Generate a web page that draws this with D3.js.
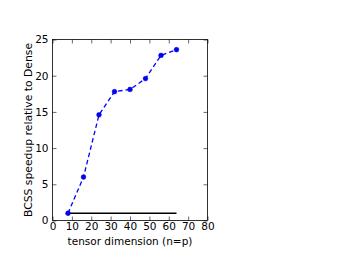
<!DOCTYPE html>
<html><head><meta charset="utf-8">
<script src="https://cdn.jsdelivr.net/npm/d3@7"></script>
<style>body{margin:0;background:#fff}svg{display:block}text{font-family:"DejaVu Sans",sans-serif}</style>
</head><body>
<script>
const dims = [8, 16, 24, 32, 40, 48, 56, 64];
const speedup = [1.0, 6.0, 14.6, 17.8, 18.1, 19.6, 22.8, 23.6];
const baseline = [1, 1, 1, 1, 1, 1, 1, 1];
const xTicks = [0, 10, 20, 30, 40, 50, 60, 70, 80];
const yTicks = [0, 5, 10, 15, 20, 25];

const W = 346, H = 260;
const m = {l: 52.5, r: 346 - 207.5, t: 39.5, b: 260 - 220.5};
const svg = d3.select("body").append("svg").attr("width", W).attr("height", H);
const x = d3.scaleLinear().domain([0, 80]).range([m.l, W - m.r]);
const y = d3.scaleLinear().domain([0, 25]).range([H - m.b, m.t]);

// baseline
svg.append("path").datum(dims.map((d, i) => [d, baseline[i]]))
  .attr("d", d3.line().x(d => x(d[0])).y(d => y(d[1])))
  .attr("fill", "none").attr("stroke", "#000").attr("stroke-width", 1.5);

// series
svg.append("path").datum(dims.map((d, i) => [d, speedup[i]]))
  .attr("d", d3.line().x(d => x(d[0])).y(d => y(d[1])))
  .attr("fill", "none").attr("stroke", "#0000ff").attr("stroke-width", 1.3)
  .attr("stroke-dasharray", "4.5,3");
svg.selectAll("circle.pt").data(dims).enter().append("circle")
  .attr("cx", d => x(d)).attr("cy", (d, i) => y(speedup[i])).attr("r", 2.4)
  .attr("fill", "#0000ff").attr("stroke", "#0000cc").attr("stroke-width", 0.5);

// axes with inward ticks on all sides
const tl = 4;
const gB = svg.append("g").attr("transform", `translate(0,${H - m.b})`)
  .call(d3.axisBottom(x).tickValues(xTicks).tickSizeInner(-tl).tickSizeOuter(0).tickPadding(2));
const gT = svg.append("g").attr("transform", `translate(0,${m.t})`)
  .call(d3.axisTop(x).tickValues(xTicks).tickSizeInner(-tl).tickSizeOuter(0).tickFormat(""));
const gL = svg.append("g").attr("transform", `translate(${m.l},0)`)
  .call(d3.axisLeft(y).tickValues(yTicks).tickSizeInner(-tl).tickSizeOuter(0).tickPadding(4));
const gR = svg.append("g").attr("transform", `translate(${W - m.r},0)`)
  .call(d3.axisRight(y).tickValues(yTicks).tickSizeInner(-tl).tickSizeOuter(0).tickFormat(""));
[gB, gT, gL, gR].forEach(g => {
  g.select(".domain").remove();
  g.selectAll("text").attr("font-size", 10.5).attr("fill", "#000").attr("font-family", "DejaVu Sans");
  g.selectAll("line").attr("stroke", "#000").attr("stroke-width", 0.6);
});
svg.append("rect").attr("x", m.l).attr("y", m.t).attr("width", W - m.r - m.l).attr("height", H - m.b - m.t)
  .attr("fill", "none").attr("stroke", "#000").attr("stroke-width", 0.8);

svg.append("text").attr("x", (m.l + W - m.r) / 2).attr("y", 245).attr("text-anchor", "middle")
  .attr("font-size", 10.5).text("tensor dimension (n=p)");
svg.append("text").attr("transform", `translate(32,${(m.t + H - m.b) / 2}) rotate(-90)`)
  .attr("text-anchor", "middle").attr("font-size", 10.8).text("BCSS speedup relative to Dense");
</script>
</body></html>
